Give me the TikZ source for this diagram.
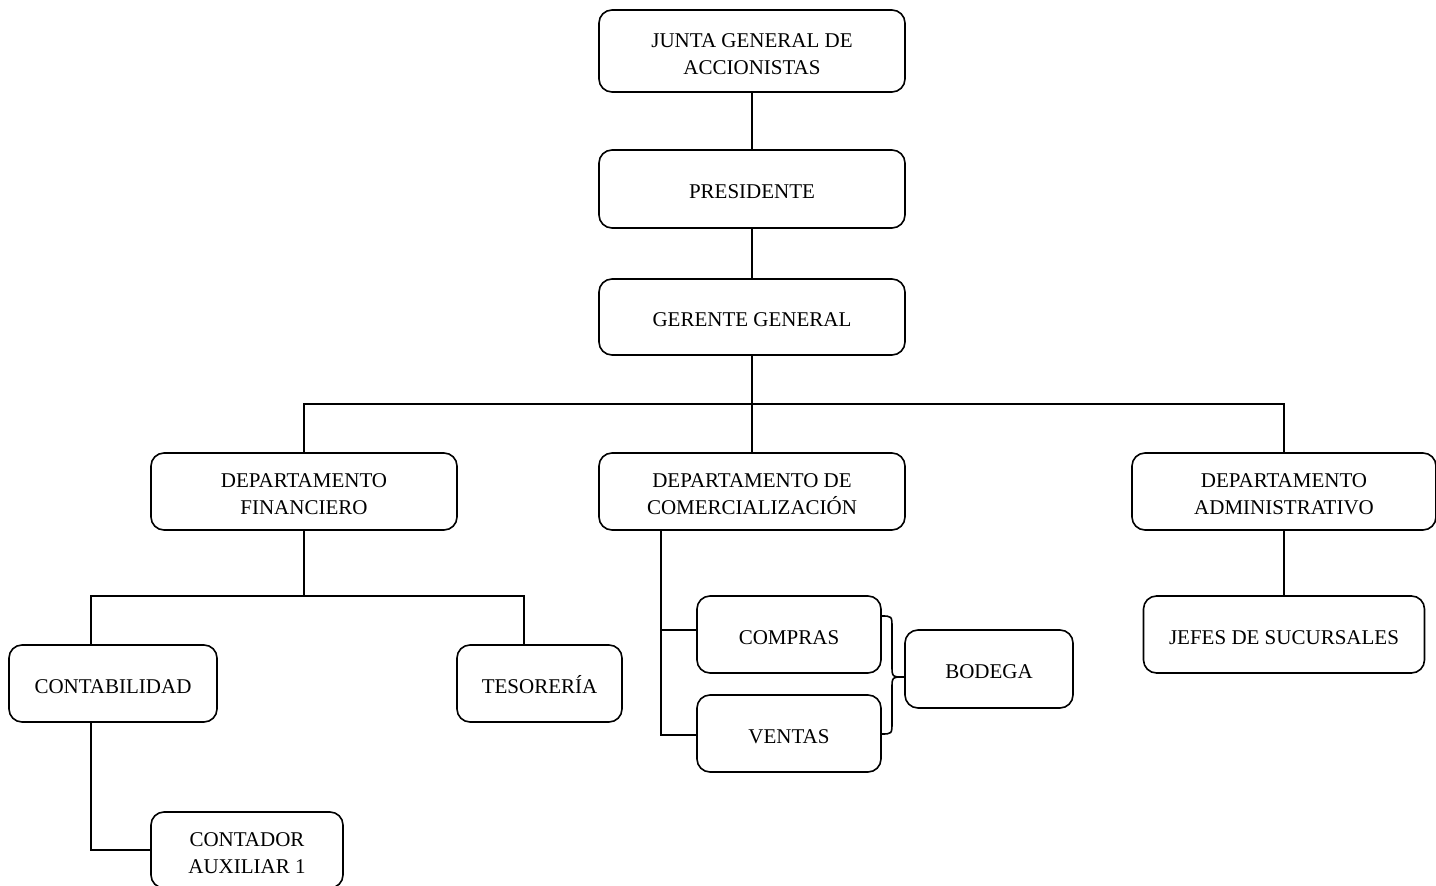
\documentclass[tikz,border=0pt]{standalone}
\usepackage{fontspec}
\setmainfont{Liberation Serif}
\newcommand{\tx}[1]{\raisebox{0pt}[\dimexpr\height+9pt\relax][\depth]{\begin{tabular}{@{}c@{}}#1\end{tabular}}}
\begin{document}
\begin{tikzpicture}[x=1pt,y=-1pt,
  box/.style={draw, line width=1.6pt, rounded corners=13pt, align=center, inner sep=0pt,
    font=\fontsize{21}{27}\selectfont},
  conn/.style={line width=1.6pt}]
\useasboundingbox (0,0) rectangle (1436,886);
\fill[white] (0,0) rectangle (1436,886);
% nodes
\node[box, minimum width=306pt, minimum height=82pt] (junta) at (752,51) {\tx{JUNTA GENERAL DE\\ACCIONISTAS}};
\node[box, minimum width=306pt, minimum height=78pt] (pres) at (752,189) {\tx{PRESIDENTE}};
\node[box, minimum width=306pt, minimum height=76pt] (ger) at (752,317) {\tx{GERENTE GENERAL}};
\node[box, minimum width=306pt, minimum height=77pt] (fin) at (304,491.5) {\tx{DEPARTAMENTO\\FINANCIERO}};
\node[box, minimum width=306pt, minimum height=77pt] (com) at (752,491.5) {\tx{DEPARTAMENTO DE\\COMERCIALIZACIÓN}};
\node[box, minimum width=304pt, minimum height=77pt] (adm) at (1284,491.5) {\tx{DEPARTAMENTO\\ADMINISTRATIVO}};
\node[box, minimum width=208pt, minimum height=77pt] (cont) at (113,683.5) {\tx{CONTABILIDAD}};
\node[box, minimum width=165pt, minimum height=77pt] (tes) at (539.5,683.5) {\tx{TESORERÍA}};
\node[box, minimum width=192pt, minimum height=76pt] (aux) at (247,850) {\tx{CONTADOR\\AUXILIAR 1}};
\node[box, minimum width=184pt, minimum height=77pt] (compras) at (789,634.5) {\tx{COMPRAS}};
\node[box, minimum width=184pt, minimum height=77pt] (ventas) at (789,733.5) {\tx{VENTAS}};
\node[box, minimum width=168pt, minimum height=78pt] (bod) at (989,669) {\tx{BODEGA}};
\node[box, minimum width=281pt, minimum height=77pt] (jefes) at (1284,634.5) {\tx{JEFES DE SUCURSALES}};
% connectors
\draw[conn] (junta) -- (pres);
\draw[conn] (pres) -- (ger);
\coordinate (bus) at (752,404);
\draw[conn] (ger.south) -- (com.north);
\draw[conn] (fin.north) |- (bus) -| (adm.north);
\coordinate (finbus) at (304,596);
\draw[conn] (fin.south) -- (finbus);
\draw[conn] (cont.north -| 91,0) |- (finbus) -| (tes.north -| 524,0);
\draw[conn] (cont.south -| 91,0) |- (aux.west);
\coordinate (comx) at (661,0);
\draw[conn] (com.south -| comx) |- ([yshift=-1.5pt]ventas.west);
\draw[conn] ([yshift=4.5pt]compras.west) -- ([yshift=4.5pt]compras.west -| comx);
\draw[conn] (adm.south) -- (jefes.north);
% brace
\coordinate (bt) at (881,616);
\coordinate (bb) at (881,734);
\coordinate (btip) at (904,677);
\draw[line width=1.6pt] (bt) .. controls (892,616) .. (892,628) -- (892,665)
  .. controls (892,677) .. (btip) .. controls (892,677) .. (892,689) -- (892,722)
  .. controls (892,734) .. (bb);
\end{tikzpicture}
\end{document}
